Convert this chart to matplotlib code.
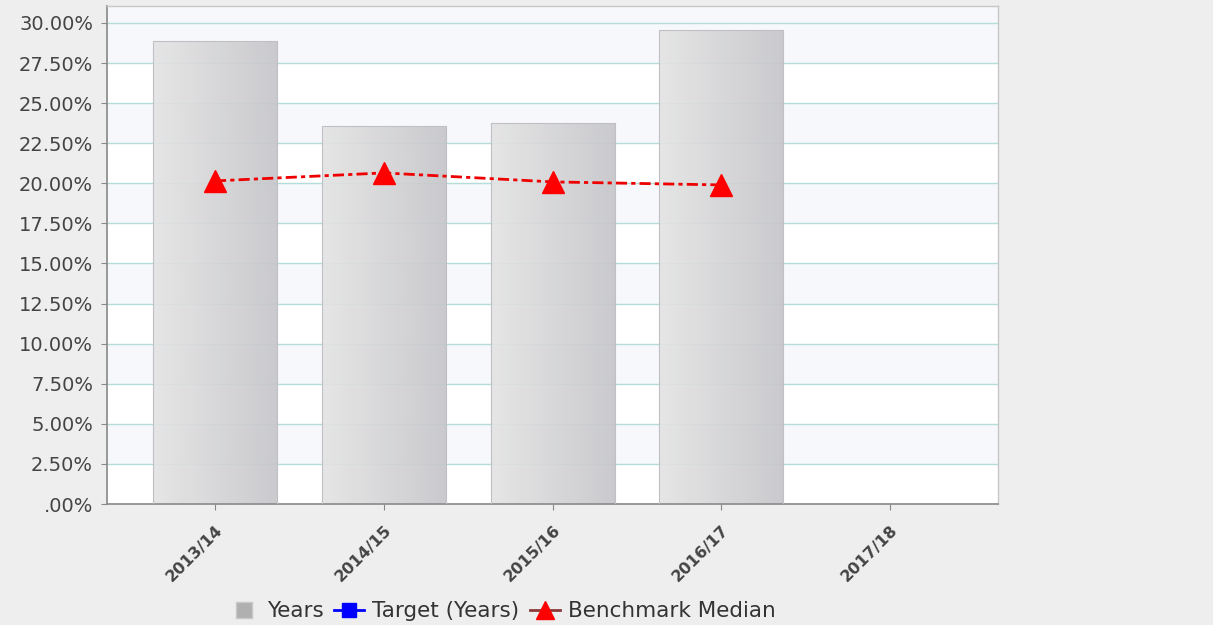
import numpy as np
import matplotlib
matplotlib.use("Agg")
import matplotlib.pyplot as plt
from matplotlib.lines import Line2D

years = ["2013/14", "2014/15", "2015/16", "2016/17", "2017/18"]
actual = [28.88, 23.58, 23.77, 29.57, np.nan]
benchmark = [20.15, 20.65, 20.09, 19.90, np.nan]
yticks = [0, 2.5, 5, 7.5, 10, 12.5, 15, 17.5, 20, 22.5, 25, 27.5, 30]
ytick_labels = [".00%", "2.50%", "5.00%", "7.50%", "10.00%", "12.50%", "15.00%",
                "17.50%", "20.00%", "22.50%", "25.00%", "27.50%", "30.00%"]

bg = "#eeeeee"
fig = plt.figure(figsize=(12.13, 6.25), dpi=100, facecolor=bg)
ax = fig.add_axes([0.0882, 0.1936, 0.7346, 0.7968])
ax.set_facecolor("white")

ymax = 31.06
x = np.arange(len(years))
ax.set_xlim(-0.64, len(years) - 1 + 0.64)
ax.set_ylim(0, ymax)

# alternating bands
for i in range(len(yticks)):
    lo = yticks[i]
    if i % 2 == 1:
        hi = yticks[i + 1] if i + 1 < len(yticks) else ymax
        ax.axhspan(lo, hi, color="#f7f8fc", zorder=0, lw=0)
ax.axhspan(30, ymax, color="#f7f8fc", zorder=0, lw=0)

for t in yticks:
    ax.axhline(t, color="#b4dcd9", lw=1, zorder=1)

# bars with horizontal gradient
width = 0.735
grad = np.linspace(0, 1, 256).reshape(1, -1)
cmap = matplotlib.colors.LinearSegmentedColormap.from_list("g", ["#e4e4e4", "#c6c6ca"])
bars = ax.bar(x, actual, width=width, color="none", edgecolor="#c0c0c4", lw=0.8, zorder=3)
for b, v in zip(bars, actual):
    if np.isnan(v):
        continue
    im = ax.imshow(grad, cmap=cmap, aspect="auto", zorder=2, alpha=0.92,
                   extent=[b.get_x(), b.get_x() + b.get_width(), 0, v])
    im.set_clip_path(b)

ax.plot(x, benchmark, color="#ee0000", lw=2, linestyle=(0, (4, 1.5, 1.5, 1.5)),
        marker="^", markersize=16, markerfacecolor="red", markeredgecolor="red", zorder=4)

ax.set_yticks(yticks)
ax.set_yticklabels(ytick_labels, fontsize=14, color="#444444")
ax.set_xticks(x)
ax.set_xticklabels(years, rotation=45, ha="right", rotation_mode="anchor",
                   fontsize=11.5, color="#444444", fontweight="semibold")
ax.tick_params(axis="y", length=4, color="#888888", pad=6)
ax.tick_params(axis="x", length=4, color="#888888", pad=9)

for s in ["left", "bottom"]:
    ax.spines[s].set_color("#888888")
    ax.spines[s].set_linewidth(1.2)
for s in ["top", "right"]:
    ax.spines[s].set_color("#c8c8c8")
    ax.spines[s].set_linewidth(1)

handles = [
    Line2D([0], [0], lw=0, marker="s", markersize=11, color="#b0b0b0",
           markeredgecolor="#c8c8c8"),
    Line2D([0], [0], color="blue", lw=2, marker="s", markersize=10),
    Line2D([0], [0], color="#8b3a3a", lw=2, marker="^", markersize=13,
           markerfacecolor="red", markeredgecolor="red"),
]
fig.legend(handles, ["Years", "Target (Years)", "Benchmark Median"],
           loc="center", bbox_to_anchor=(0.414, 0.022), ncol=3, frameon=False,
           fontsize=15.5, handlelength=1.4, handletextpad=0.35, columnspacing=0.5,
           labelcolor="#333333", borderpad=0.1)

fig.savefig("out.png", dpi=100, facecolor=bg)
